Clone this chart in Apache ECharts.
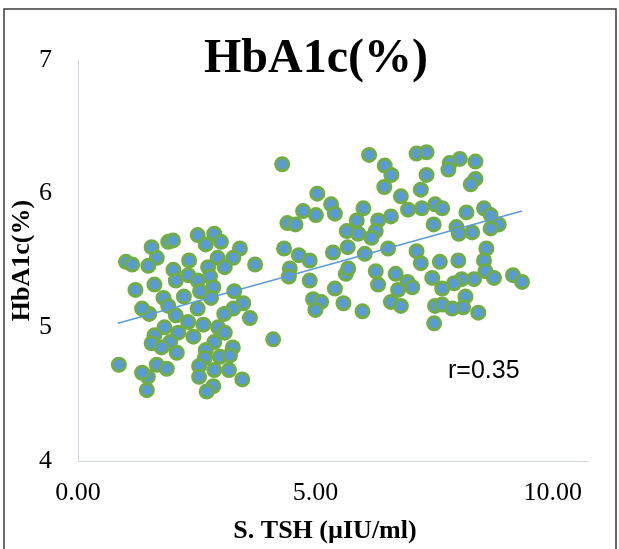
<!DOCTYPE html>
<html>
<head>
<meta charset="utf-8">
<script src="https://cdn.jsdelivr.net/npm/echarts@6/dist/echarts.min.js"></script>
<style>
  html, body { margin: 0; padding: 0; background: #fff; }
  #chart { width: 619px; height: 549px; }
</style>
</head>
<body>
<div id="chart"></div>
<script>
// S. TSH (x)
const tsh = [
  1.55, 1.90, 2.00, 1.66, 1.48, 1.01, 1.14, 2.01, 2.06, 1.21, 1.61, 1.80, 2.23, 1.90, 1.50,
  1.35, 2.06, 1.82, 1.61, 2.11, 1.94, 1.55, 1.76, 2.08, 0.86, 1.66, 1.87, 1.47, 1.35, 1.45,
  2.52, 2.87, 2.69, 3.01, 3.41, 3.27, 2.94, 2.34, 2.74, 3.09, 3.73, 2.32, 2.78, 2.52, 2.85,
  2.57, 3.29, 2.80, 3.48, 2.52, 3.27, 3.08, 3.62, 2.32, 2.64, 2.95, 2.43, 3.09, 2.87, 3.26,
  2.69, 2.99, 3.20, 2.67, 2.55, 2.87, 3.18, 2.55, 3.46, 2.85, 2.71,
  4.11, 4.30,
  5.04, 5.33, 5.41, 4.74, 5.01, 4.41, 4.58, 5.66, 4.34, 4.65, 4.88, 5.37, 5.68, 4.46, 4.44,
  4.88, 5.64, 5.69, 5.41, 4.95, 5.12, 5.00, 5.59,
  6.13, 7.13, 7.34, 6.46, 6.60, 6.45, 7.34, 7.22, 6.80, 6.95, 7.24, 7.52, 7.67, 6.01, 5.87,
  6.32, 6.59, 6.27, 5.90, 6.18, 7.49, 6.04, 6.53, 7.13, 7.22, 7.62, 6.27, 6.32, 6.69, 6.94,
  6.74, 7.04, 7.46, 7.67, 6.59, 6.80, 5.99, 7.52, 7.67, 7.50,
  8.04, 7.83, 7.80, 8.37, 8.37, 8.27, 8.18, 8.55, 8.69, 8.86, 7.97, 8.02, 8.30, 8.69, 8.60,
  8.55, 8.01, 8.58, 8.76, 8.34, 8.08, 7.92, 9.16, 9.35, 8.16, 8.11, 7.88, 8.43
];
// HbA1c (y), same order as tsh
const hba1c = [
  5.60, 5.64, 5.65, 5.52, 5.46, 5.49, 5.47, 5.43, 5.35, 5.28, 5.32, 5.22, 5.23, 5.16, 5.10,
  5.14, 5.09, 5.00, 4.94, 4.96, 4.89, 4.88, 4.85, 4.81, 4.72, 4.72, 4.69, 4.63, 4.66, 4.53,
  5.69, 5.70, 5.62, 5.64, 5.59, 5.52, 5.52, 5.50, 5.45, 5.45, 5.47, 5.39, 5.38, 5.35, 5.30,
  5.27, 5.27, 5.22, 5.18, 5.14, 5.14, 5.10, 5.07, 5.04, 5.02, 5.00, 4.93, 4.96, 4.89, 4.85,
  4.83, 4.78, 4.79, 4.77, 4.71, 4.68, 4.68, 4.63, 4.61, 4.56, 4.52,
  4.91, 6.22,
  6.00, 5.92, 5.85, 5.87, 5.84, 5.78, 5.77, 5.72, 5.59, 5.54, 5.50, 5.56, 5.60, 5.44, 5.38,
  5.35, 5.40, 5.44, 5.29, 5.21, 5.19, 5.13, 5.18,
  6.29, 6.30, 6.31, 6.21, 6.14, 6.05, 6.14, 6.03, 5.98, 5.88, 5.89, 5.92, 5.89, 5.89, 5.80,
  5.80, 5.83, 5.72, 5.70, 5.67, 5.77, 5.55, 5.59, 5.57, 5.48, 5.49, 5.42, 5.32, 5.40, 5.34,
  5.28, 5.30, 5.37, 5.29, 5.19, 5.16, 5.12, 5.16, 5.17, 5.03,
  6.26, 6.23, 6.18, 6.24, 6.11, 6.07, 5.86, 5.89, 5.84, 5.77, 5.75, 5.70, 5.71, 5.74, 5.59,
  5.50, 5.50, 5.42, 5.37, 5.36, 5.36, 5.33, 5.39, 5.34, 5.23, 5.15, 5.14, 5.11
];
// linear trend line end points
const trendX = [0.84, 9.35];
const trendY = [5.03, 5.87];
const xTicks = [0, 5, 10];
const yTicks = [4, 5, 6, 7];

const chartInstance = echarts.init(document.getElementById("chart"));

const serif = "'Liberation Serif', 'DejaVu Serif', serif";
const option = {
  backgroundColor: "#ffffff",
  animation: false,
  grid: {
    left: 78,
    right: 31,
    top: 60,
    bottom: 88,
    outerBoundsMode: "none",
    containLabel: false
  },
  xAxis: {
    type: "value",
    min: 0,
    max: 10.74,
    interval: 5,
    axisLine: { show: true, lineStyle: { color: "#d0d7e3", width: 1 } },
    axisTick: { show: false },
    splitLine: { show: false },
    axisLabel: {
      margin: 19,
      color: "#000",
      fontSize: 26,
      fontFamily: serif,
      formatter: function (v) {
        return xTicks.indexOf(v) >= 0 ? v.toFixed(2) : "";
      }
    }
  },
  yAxis: {
    type: "value",
    min: 4,
    max: 7,
    interval: 1,
    name: "HbA1c(%)",
    nameLocation: "middle",
    nameRotate: 90,
    nameGap: 43,
    nameMoveOverlap: false,
    nameTextStyle: {
      color: "#000",
      fontSize: 26,
      fontWeight: "bold",
      fontFamily: serif
    },
    axisLine: { show: true, lineStyle: { color: "#d0d7e3", width: 1 } },
    axisTick: { show: false },
    splitLine: { show: false },
    axisLabel: {
      margin: 26,
      color: "#000",
      fontSize: 26,
      fontFamily: serif,
      formatter: function (v) {
        return yTicks.indexOf(v) >= 0 ? String(v) : "";
      }
    }
  },
  graphic: [
    {
      type: "rect",
      shape: { x: 4, y: 9, width: 612, height: 560 },
      style: { fill: "none", stroke: "#3a3a3a", lineWidth: 1.5 },
      silent: true
    },
    {
      type: "text",
      x: 316,
      y: 60,
      style: {
        text: "HbA1c(%)",
        fill: "#000",
        font: "bold 48px " + serif,
        textAlign: "center",
        textVerticalAlign: "middle"
      }
    },
    {
      type: "text",
      x: 325,
      y: 531,
      style: {
        text: "S. TSH (µIU/ml)",
        fill: "#000",
        font: "bold 26px " + serif,
        textAlign: "center",
        textVerticalAlign: "middle"
      }
    },
    {
      type: "text",
      x: 448,
      y: 371,
      style: {
        text: "r=0.35",
        fill: "#000",
        font: "25px 'Liberation Sans', Arial, sans-serif",
        textAlign: "left",
        textVerticalAlign: "middle"
      }
    }
  ],
  series: [
    {
      name: "HbA1c(%)",
      type: "scatter",
      symbol: "circle",
      symbolSize: 13,
      itemStyle: {
        color: "#5b9bd5",
        borderColor: "#70ad47",
        borderWidth: 3,
        opacity: 1
      },
      data: tsh.map(function (x, i) { return [x, hba1c[i]]; })
    },
    {
      name: "trend",
      type: "line",
      symbol: "none",
      silent: true,
      lineStyle: { color: "#5b9bd5", width: 1.5 },
      data: trendX.map(function (x, i) { return [x, trendY[i]]; })
    }
  ]
};
chartInstance.setOption(option);
</script>
</body>
</html>
